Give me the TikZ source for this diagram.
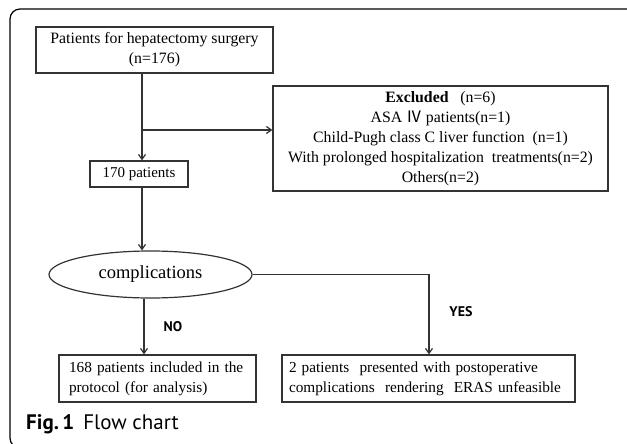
\documentclass[tikz,border=0pt]{standalone}
\usepackage{fontspec}
\setmainfont{Liberation Serif}
\setsansfont{PT Sans}
\newfontfamily\cjkf{Noto Sans CJK SC}
\usetikzlibrary{shapes.geometric,arrows.meta}
\definecolor{ln}{HTML}{333333}
\tikzset{
  fbox/.style={draw=ln,line width=1.2pt,inner sep=0pt,align=center,font=\fontsize{15.8}{20}\selectfont},
  arr/.style={draw=ln,line width=1.2pt,-{Straight Barb[length=5pt,width=7pt]}},
  lab/.style={font=\sffamily\bfseries\fontsize{14}{16}\selectfont,inner sep=0pt},
}
\begin{document}
\begin{tikzpicture}[x=1pt,y=-1pt]
\clip (0,0) rectangle (627,444);
\draw[line width=1.2pt,rounded corners=10pt] (660,9) -- (10,9) -- (10,448) -- (660,448);
\node[fbox,minimum width=237pt,minimum height=46pt] (b1) at (154.5,50) {Patients for hepatectomy surgery\\(n=176)};
\node[fbox,minimum width=335pt,minimum height=105pt] (excl) at (440.5,138.5) {\textbf{Excluded}\ \ \ (n=6)\\ASA {\cjkf Ⅳ} patients(n=1)\\Child-Pugh class C liver function \ (n=1)\\With prolonged hospitalization \ treatments(n=2)\\Others(n=2)};
\node[fbox,minimum width=98pt,minimum height=26pt,font=\fontsize{15}{18}\selectfont] (b170) at (139,174) {170 patients};
\node[fbox,ellipse,minimum width=203pt,minimum height=47pt,font=\fontsize{18.5}{20}\selectfont] (ell) at (150.5,274.5) {complications};
\node[fbox,minimum width=197pt,minimum height=47pt,align=left,text width=177pt,inner xsep=10pt,font=\fontsize{15.3}{20}\selectfont] (nobox) at (157.5,378.5) {168 patients included in the\\ protocol (for analysis)};
\node[fbox,minimum width=293pt,minimum height=47pt,align=left,text width=279pt,inner xsep=7pt,font=\fontsize{15.3}{20}\selectfont] (yesbox) at (428.5,378.5) {2 patients \ presented with postoperative\\complications \ rendering \ ERAS unfeasible};
\coordinate (split) at (142,130);
\coordinate (nox) at (144,0);
\coordinate (yesx) at (429,0);
\draw[arr] (split |- b1.south) -- (split |- b170.north);
\draw[arr] (split) -- (excl.west |- split);
\draw[arr] (split |- b170.south) -- (split |- ell.north);
\draw[arr] (nox |- ell.south) -- (nox |- nobox.north);
\draw[arr] (ell.east) -| (yesx |- yesbox.north);
\node[lab] (no) at (173,327) {NO};
\node[lab] (yes) at (461,312) {YES};
\node[anchor=base west,inner sep=0pt,font=\sffamily\fontsize{21}{24}\selectfont] (cap) at (26,429) {\textbf{Fig.\,1}\hspace{9pt}Flow chart};
\end{tikzpicture}
\end{document}
